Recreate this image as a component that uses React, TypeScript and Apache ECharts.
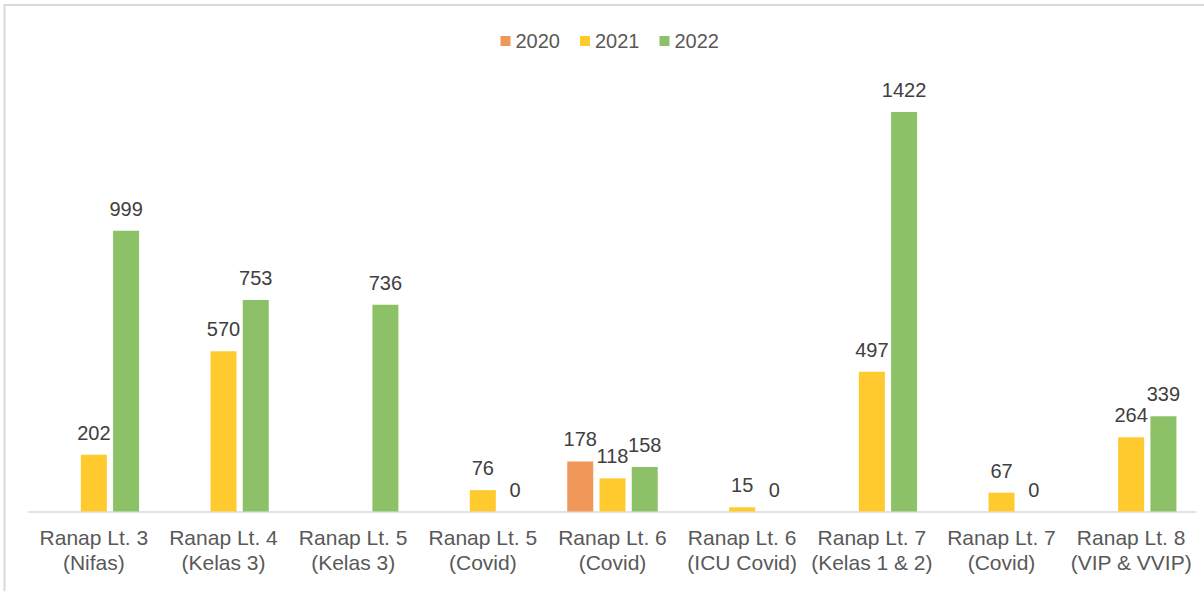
import React, { useEffect, useRef } from "react";
import * as echarts from "echarts";

const categories = [
  "Ranap Lt. 3\n(Nifas)",
  "Ranap Lt. 4\n(Kelas 3)",
  "Ranap Lt. 5\n(Kelas 3)",
  "Ranap Lt. 5\n(Covid)",
  "Ranap Lt. 6\n(Covid)",
  "Ranap Lt. 6\n(ICU Covid)",
  "Ranap Lt. 7\n(Kelas 1 & 2)",
  "Ranap Lt. 7\n(Covid)",
  "Ranap Lt. 8\n(VIP & VVIP)",
];

const seriesNames = ["2020", "2021", "2022"];
const values2020 = [null, null, null, null, 178, null, null, null, null];
const values2021 = [202, 570, null, 76, 118, 15, 497, 67, 264];
const values2022 = [999, 753, 736, 0, 158, 0, 1422, 0, 339];
const colors = ["#F0975A", "#FFCA2E", "#8CC168"];

export default function App() {
  const ref = useRef<HTMLDivElement>(null);

  useEffect(() => {
    if (!ref.current) return;
    const chart = echarts.init(ref.current, undefined, { renderer: "svg" });
    const all = [values2020, values2021, values2022];
    const option = {
      animation: false,
      backgroundColor: "#ffffff",
      textStyle: { fontFamily: "Liberation Sans, Arial, sans-serif" },
      graphic: [
        {
          type: "rect",
          shape: { x: 4.5, y: 5, width: 1400, height: 1000 },
          style: { fill: "none", stroke: "#D9D9D9", lineWidth: 2 },
          silent: true,
        },
      ],
      legend: {
        data: seriesNames,
        top: 26,
        left: 495.5,
        itemWidth: 10,
        itemHeight: 10,
        itemGap: 20,
        icon: "rect",
        textStyle: { color: "#595959", fontSize: 20, fontFamily: "Liberation Sans, Arial, sans-serif" },
      },
      grid: { left: 29, right: 8, top: 62, bottom: 79.5, containLabel: false },
      xAxis: {
        type: "category",
        data: categories,
        axisTick: { show: false },
        axisLine: { lineStyle: { color: "#D9D9D9", width: 1.5 } },
        axisLabel: {
          color: "#595959",
          fontSize: 21,
          lineHeight: 25,
          margin: 13,
          interval: 0,
          fontFamily: "Liberation Sans, Arial, sans-serif",
        },
      },
      yAxis: {
        type: "value",
        min: 0,
        max: 1600,
        show: false,
        splitLine: { show: false },
      },
      series: seriesNames.map((name, i) => ({
        name,
        type: "bar",
        data: all[i],
        barWidth: 26,
        barGap: "24%",
        itemStyle: { color: colors[i] },
        label: {
          show: true,
          position: "top",
          distance: 12,
          color: "#404040",
          fontSize: 20,
          fontFamily: "Liberation Sans, Arial, sans-serif",
        },
      })),
    };
    chart.setOption(option as any);
    return () => chart.dispose();
  }, []);

  return (
    <div
      ref={ref}
      style={{ position: "fixed", left: 0, top: 0, width: 1204, height: 591 }}
    />
  );
}
